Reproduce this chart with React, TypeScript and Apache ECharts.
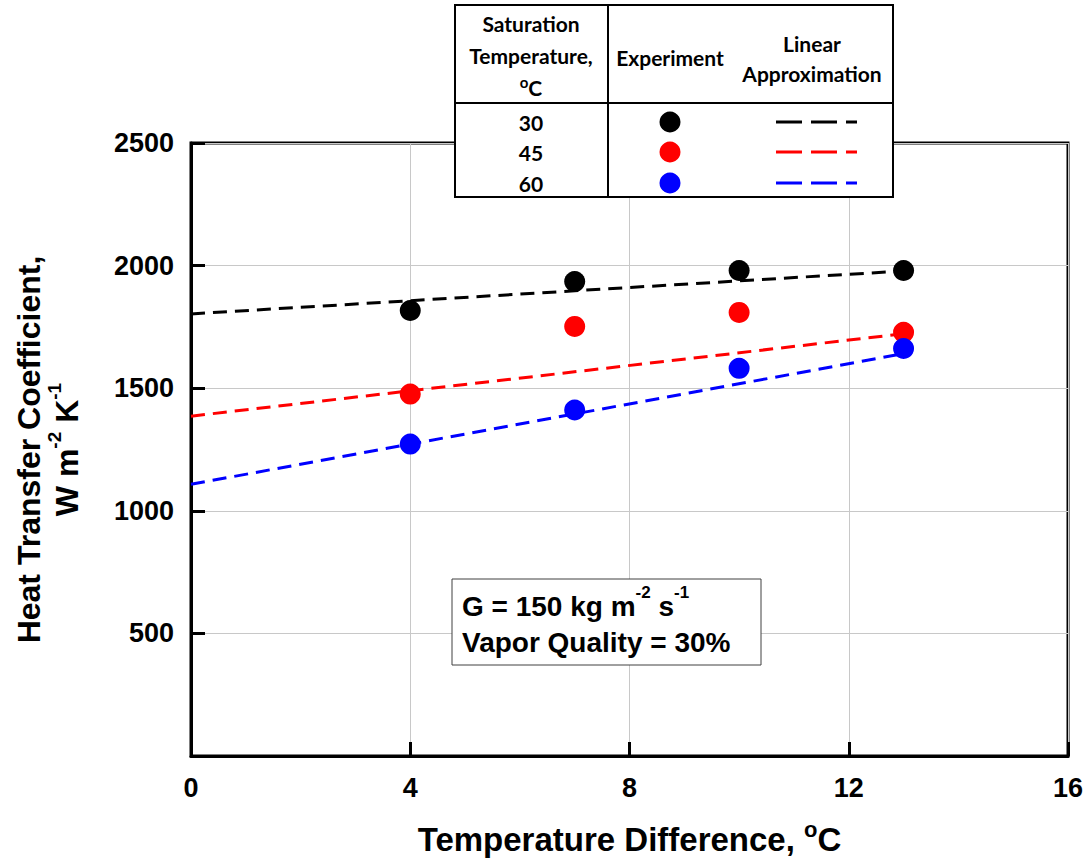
import React, { useEffect, useRef } from "react";
import * as echarts from "echarts";

// ---- data ----
const tempDiff = [4, 7, 10, 13];
const exp30 = [1817, 1935, 1980, 1980];
const exp45 = [1476, 1752, 1809, 1728];
const exp60 = [1272, 1411, 1581, 1662];
const fitX = [0, 13];
const fit30 = [1803, 1978];
const fit45 = [1386, 1722];
const fit60 = [1108, 1641];
const satTemps = ["30", "45", "60"];
const colors = ["#000000", "#ff0000", "#0000ff"];

const FONT = "'Liberation Sans', Arial, sans-serif";
const TFONT = "Lato, 'Noto Sans', sans-serif";

function pairs(xs: number[], ys: number[]) {
  return xs.map((x, i) => [x, ys[i]]);
}

export default function App() {
  const ref = useRef<HTMLDivElement>(null);
  useEffect(() => {
    if (!ref.current) return;
    const chart = echarts.init(ref.current, undefined, { renderer: "svg" });
    const expSets = [exp30, exp45, exp60];
    const fitSets = [fit30, fit45, fit60];

    const scatterSeries = expSets.map((ys, i) => ({
      name: "Experiment " + satTemps[i],
      type: "scatter",
      data: pairs(tempDiff, ys),
      symbol: "circle",
      symbolSize: 21,
      itemStyle: { color: colors[i], opacity: 1 },
      z: 3,
    }));
    const lineSeries = fitSets.map((ys, i) => ({
      name: "Linear " + satTemps[i],
      type: "line",
      data: pairs(fitX, ys),
      symbol: "none",
      showSymbol: false,
      lineStyle: { color: colors[i], width: 3, type: [14, 8] },
      z: 4,
    }));

    const T = 200;
    const tableX0 = 455, tableX1 = 893, tableY0 = 5, tableY1 = 197;
    const colDiv = 608, rowDiv = 103;
    const rowYs = [122, 152, 183];
    const hdr = (text: string, x: number, y: number) => ({
      type: "text", z: T + 2, x, y,
      style: { text, fontFamily: TFONT, fontWeight: "bold", fontSize: 21, fill: "#000", align: "center", verticalAlign: "middle" },
    });
    const graphics: any[] = [
      {
        type: "rect",
        z: T,
        shape: { x: tableX0, y: tableY0, width: tableX1 - tableX0, height: tableY1 - tableY0 },
        style: { fill: "#fff", stroke: "#000", lineWidth: 2 },
      },
      { type: "line", z: T + 1, shape: { x1: colDiv, y1: tableY0, x2: colDiv, y2: tableY1 }, style: { stroke: "#000", lineWidth: 2 } },
      { type: "line", z: T + 1, shape: { x1: tableX0, y1: rowDiv, x2: tableX1, y2: rowDiv }, style: { stroke: "#000", lineWidth: 2 } },
      hdr("Saturation", 531, 23),
      hdr("Temperature,", 531, 55),
      {
        type: "text", z: T + 2, x: 531, y: 86,
        style: {
          text: "{s|o}{h|C}",
          align: "center", verticalAlign: "middle",
          rich: {
            h: { fontFamily: TFONT, fontWeight: "bold", fontSize: 21, lineHeight: 24, verticalAlign: "bottom", fill: "#000" },
            s: { fontFamily: TFONT, fontWeight: "bold", fontSize: 15, lineHeight: 14, verticalAlign: "top", fill: "#000" },
          },
        },
      },
      hdr("Experiment", 670, 57),
      hdr("Linear", 812, 43),
      hdr("Approximation", 812, 73),
    ];
    satTemps.forEach((t, i) => {
      graphics.push({
        type: "text", z: T + 2, x: 531, y: rowYs[i],
        style: { text: t, fontFamily: TFONT, fontWeight: "bold", fontSize: 21, fill: "#000", align: "center", verticalAlign: "middle" },
      });
      graphics.push({
        type: "circle", z: T + 2, shape: { cx: 670, cy: rowYs[i], r: 10.5 }, style: { fill: colors[i] },
      });
      graphics.push({
        type: "line", z: T + 2, shape: { x1: 776, y1: rowYs[i], x2: 857, y2: rowYs[i] },
        style: { stroke: colors[i], lineWidth: 3, lineDash: [26, 9] },
      });
    });
    // annotation box
    graphics.push({
      type: "rect", z: 50,
      shape: { x: 452, y: 579, width: 309, height: 86 },
      style: { fill: "#fff", stroke: "#404040", lineWidth: 1 },
    });
    graphics.push({
      type: "text", z: 51, x: 462, y: 620,
      style: {
        text: "{a|G = 150 kg m}{s|-2}{a| s}{s|-1}\n{a|Vapor Quality = 30%}",
        align: "left", verticalAlign: "middle",
        rich: {
          a: { fontFamily: FONT, fontWeight: "bold", fontSize: 28, lineHeight: 36, verticalAlign: "bottom", fill: "#000" },
          s: { fontFamily: FONT, fontWeight: "bold", fontSize: 17, lineHeight: 18, verticalAlign: "top", fill: "#000" },
        },
      },
    });

    chart.setOption({
      animation: false,
      backgroundColor: "#fff",
      grid: {
        left: 191, right: 20, top: 143, bottom: 103,
        show: true, borderColor: "#000", borderWidth: 3, backgroundColor: "transparent",
      },
      xAxis: {
        type: "value", min: 0, max: 16, interval: 4,
        name: "{a|Temperature Difference, }{s|o}{a|C}",
        nameLocation: "middle", nameGap: 62,
        nameTextStyle: {
          rich: {
            a: { fontFamily: FONT, fontWeight: "bold", fontSize: 33, lineHeight: 38, verticalAlign: "bottom", color: "#000" },
            s: { fontFamily: FONT, fontWeight: "bold", fontSize: 22, lineHeight: 22, verticalAlign: "top", color: "#000" },
          },
        },
        axisLine: { show: true, lineStyle: { color: "#000", width: 3 } },
        axisTick: { show: true, inside: true, length: 14, lineStyle: { color: "#000", width: 3 } },
        axisLabel: { color: "#000", fontFamily: FONT, fontWeight: "bold", fontSize: 27, margin: 18, formatter: (v: number) => String(v) },
        splitLine: { show: true, lineStyle: { color: "#c8c8c8", width: 1 } },
      },
      yAxis: {
        type: "value", min: 0, max: 2500, interval: 500,
        name: "{a|Heat Transfer Coefficient,}\n{a|W m}{s|-2}{a| K}{s|-1}",
        nameLocation: "middle", nameRotate: 90, nameGap: 108,
        nameTextStyle: {
          rich: {
            a: { fontFamily: FONT, fontWeight: "bold", fontSize: 32, lineHeight: 38, verticalAlign: "bottom", color: "#000" },
            s: { fontFamily: FONT, fontWeight: "bold", fontSize: 19, lineHeight: 18, verticalAlign: "top", color: "#000" },
          },
        },
        axisLine: { show: true, lineStyle: { color: "#000", width: 3 } },
        axisTick: { show: true, inside: true, length: 14, lineStyle: { color: "#000", width: 3 } },
        axisLabel: { color: "#000", fontFamily: FONT, fontWeight: "bold", fontSize: 27, margin: 17, showMinLabel: false, formatter: (v: number) => String(v) },
        splitLine: { show: true, lineStyle: { color: "#c8c8c8", width: 1 } },
      },
      series: [...scatterSeries, ...lineSeries],
      graphic: graphics,
    });
    return () => chart.dispose();
  }, []);
  return (
    <div
      ref={ref}
      style={{ position: "absolute", left: 0, top: 0, width: 1088, height: 861, background: "#fff" }}
    />
  );
}
